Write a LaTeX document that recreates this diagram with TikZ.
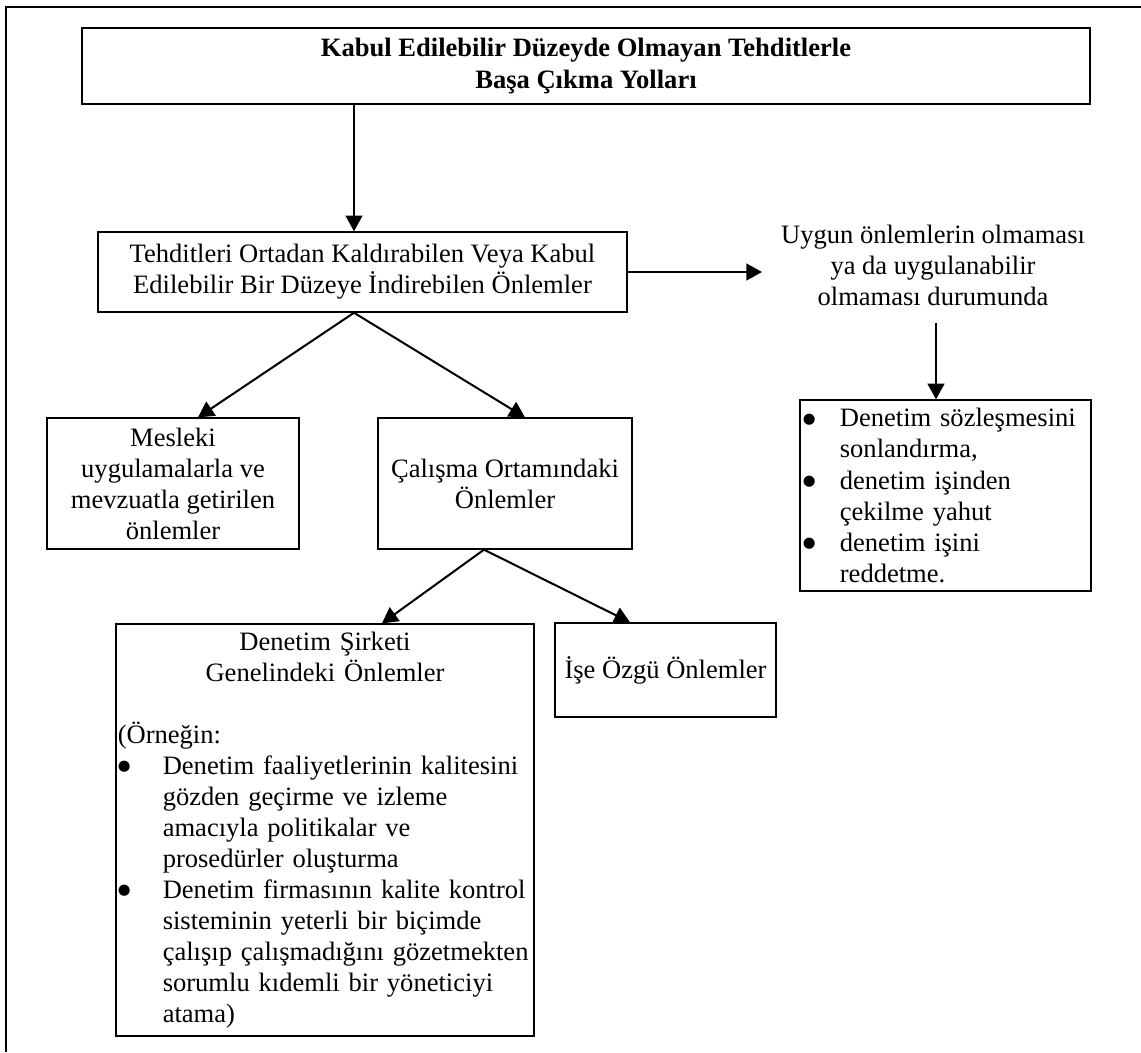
\documentclass[tikz,border=0pt]{standalone}
\usepackage{fontspec}
\setmainfont{Liberation Serif}
\newfontfamily\dotfont{DejaVu Sans}
\usetikzlibrary{arrows.meta}
% bullet items for the list boxes: #1 indent, #2 line text
\newcommand{\bigdot}{\raisebox{1.6pt}{\dotfont\fontsize{6.5pt}{6.5pt}\selectfont ●}}
\newcommand{\listdot}[2]{\mbox{\makebox[#1][l]{\bigdot}#2}}
\newcommand{\listgap}[2]{\mbox{\hspace*{#1}#2}}
\begin{document}
\begin{tikzpicture}[x=0.44444pt,y=-0.44444pt,
  every node/.style={font=\fontsize{11.8pt}{13.8pt}\selectfont},
  box/.style={draw, line width=0.6pt, inner sep=0pt},
  listbox/.style={draw, line width=0.6pt, inner ysep=0pt, align=left},
  conn/.style={line width=0.9pt, -{Triangle[length=7pt,width=7.5pt]}},
  frame/.style={line width=0.7pt}]
\useasboundingbox (0,0) rectangle (1141,1052);

% page frame (top and left rules)
\draw[frame] (1141,7) -- (6,7) -- (6,1052);

% boxes
\node[box, minimum width=448pt, minimum height=33.8pt, align=center] (title) at (586,66)
  {\bfseries Kabul Edilebilir Düzeyde Olmayan Tehditlerle\\\bfseries Başa Çıkma Yolları};

\node[box, minimum width=235.1pt, minimum height=35.6pt, align=center] (means) at (362.5,272)
  {Tehditleri Ortadan Kaldırabilen Veya Kabul\\Edilebilir Bir Düzeye İndirebilen Önlemler};

\node[align=center, inner sep=0pt] (nomeasure) at (933,265)
  {Uygun önlemlerin olmaması\\ya da uygulanabilir\\olmaması durumunda};

\node[listbox, inner xsep=1.3pt, text width=126.7pt, minimum height=84.9pt] (withdraw) at (945.5,495.5)
  {\listdot{16.4pt}{Denetim sözleşmesini}\\
   \listgap{16.4pt}{sonlandırma,}\\
   \listdot{16.4pt}{denetim işinden}\\
   \listgap{16.4pt}{çekilme yahut}\\
   \listdot{16.4pt}{denetim işini}\\
   \listgap{16.4pt}{reddetme.}};

\node[box, minimum width=112pt, minimum height=58.2pt, align=center] (practice) at (173,483.5)
  {Mesleki\\uygulamalarla ve\\mevzuatla getirilen\\önlemler};

\node[box, minimum width=112.9pt, minimum height=58.2pt, align=center] (workenv) at (505,483.5)
  {Çalışma Ortamındaki\\Önlemler};

\node[listbox, inner xsep=0.8pt, text width=184.2pt, minimum height=183.1pt] (firmwide) at (325,830)
  {\makebox[184.2pt][c]{Denetim Şirketi}\\
   \makebox[184.2pt][c]{Genelindeki Önlemler}\\[13.8pt]
   (Örneğin:\\
   \listdot{20pt}{Denetim faaliyetlerinin kalitesini}\\
   \listgap{20pt}{gözden geçirme ve izleme}\\
   \listgap{20pt}{amacıyla politikalar ve}\\
   \listgap{20pt}{prosedürler oluşturma}\\
   \listdot{20pt}{Denetim firmasının kalite kontrol}\\
   \listgap{20pt}{sisteminin yeterli bir biçimde}\\
   \listgap{20pt}{çalışıp çalışmadığını gözetmekten}\\
   \listgap{20pt}{sorumlu kıdemli bir yöneticiyi}\\
   \listgap{20pt}{atama)}};

\node[box, minimum width=98.2pt, minimum height=41.8pt, align=center] (engagement) at (665.5,670)
  {\raisebox{-2pt}{İşe Özgü Önlemler}};

% connector x positions
\coordinate (stem) at (354,0);
\coordinate (tip) at (762,0);
\coordinate (drop) at (936,0);
\coordinate (toPractice) at (198,0);
\coordinate (toWork) at (525,0);
\coordinate (fromWork) at (484,0);
\coordinate (toFirm) at (382,0);
\coordinate (toJob) at (630,0);

% connectors
\draw[conn] (title.south -| stem) -- (means.north -| stem);
\draw[conn] (means.east) -- (means.east -| tip);
\draw[conn, shorten <=7.5pt] (nomeasure.south -| drop) -- (withdraw.north -| drop);
\draw[conn] (means.south -| stem) -- (practice.north -| toPractice);
\draw[conn] (means.south -| stem) -- (workenv.north -| toWork);
\draw[conn] (workenv.south -| fromWork) -- (firmwide.north -| toFirm);
\draw[conn] (workenv.south -| fromWork) -- (engagement.north -| toJob);
\end{tikzpicture}
\end{document}
